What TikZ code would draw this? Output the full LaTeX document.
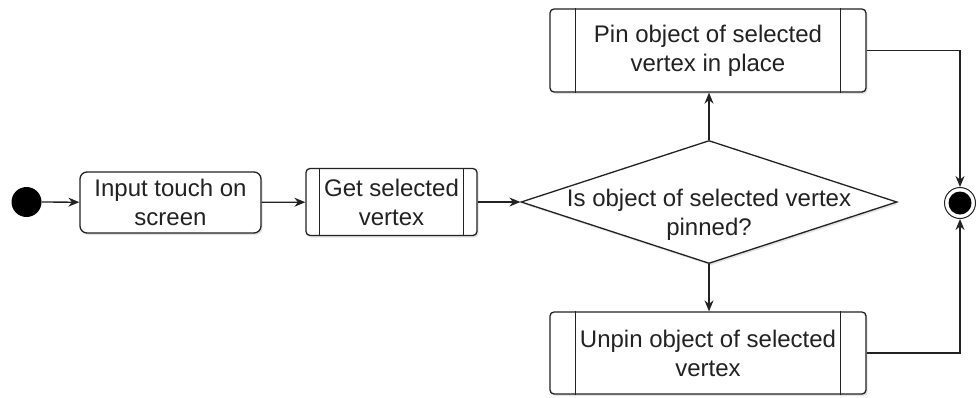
\documentclass[tikz,border=0pt]{standalone}
\usepackage{fontspec}
\setmainfont{Liberation Sans}
\usetikzlibrary{arrows.meta,shapes.geometric,shadows}
\definecolor{ink}{HTML}{222222}
\begin{document}
\begin{tikzpicture}[x=1pt,y=-1pt,
  every node/.style={font=\fontsize{24}{29}\selectfont, text=ink},
  base/.style={draw=ink, line width=1.3pt, fill=white,
    drop shadow={shadow xshift=1.5pt, shadow yshift=-2pt, opacity=0.22}},
  action/.style={base, rectangle, rounded corners=7pt, align=center, inner sep=0pt},
  subproc/.style={action, rounded corners=4pt},
  decision/.style={base, diamond, inner sep=0pt},
  flow/.style={draw=ink, line width=1.3pt, -{Stealth[length=11pt,width=9pt]}},
  bar/.style={draw=ink, line width=1.3pt}]
\useasboundingbox (0,0) rectangle (976,397);

% initial and final states
\node[circle, fill=black, minimum size=30pt, inner sep=0pt] (start) at (26.5,202) {};
\node[circle, draw=ink, line width=1pt, fill=white, minimum size=31pt, inner sep=0pt] (end) at (960,203) {};
\node[circle, fill=black, minimum size=23pt, inner sep=0pt] (endcore) at (end) {};

% actions
\node[action, minimum width=181pt, minimum height=61pt] (input) at (170.5,202.5) {Input touch on\\screen};
\node[subproc, minimum width=171pt, minimum height=67pt] (get) at (391.5,202) {Get selected\\vertex};
\node[decision, minimum width=376pt, minimum height=123pt] (dec) at (709,202) {};
\node[align=center] (question) at (709,215) {Is object of selected vertex\\pinned?};
\node[subproc, minimum width=316pt, minimum height=83pt] (pin) at (708,50.5) {Pin object of selected\\vertex in place};
\node[subproc, minimum width=316pt, minimum height=82pt] (unpin) at (708,353) {Unpin object of selected\\vertex};

% side bars of the subprocess boxes
\foreach \n/\d in {get/14,pin/26,unpin/26}{
  \draw[bar] ([xshift=\d pt]\n.north west) -- ([xshift=\d pt]\n.south west);
  \draw[bar] ([xshift=-\d pt]\n.north east) -- ([xshift=-\d pt]\n.south east);
}

% control flow
\draw[flow] (start) -- (input);
\draw[flow] (input) -- (get);
\draw[flow] (get.east) -- (dec.west);
\draw[flow] (dec.north) -- (dec.north |- pin.south);
\draw[flow] (dec.south) -- (dec.south |- unpin.north);
\draw[flow] (pin.east) -| (end.north);
\draw[flow] (unpin.east) -| (end.south);
\end{tikzpicture}
\end{document}
